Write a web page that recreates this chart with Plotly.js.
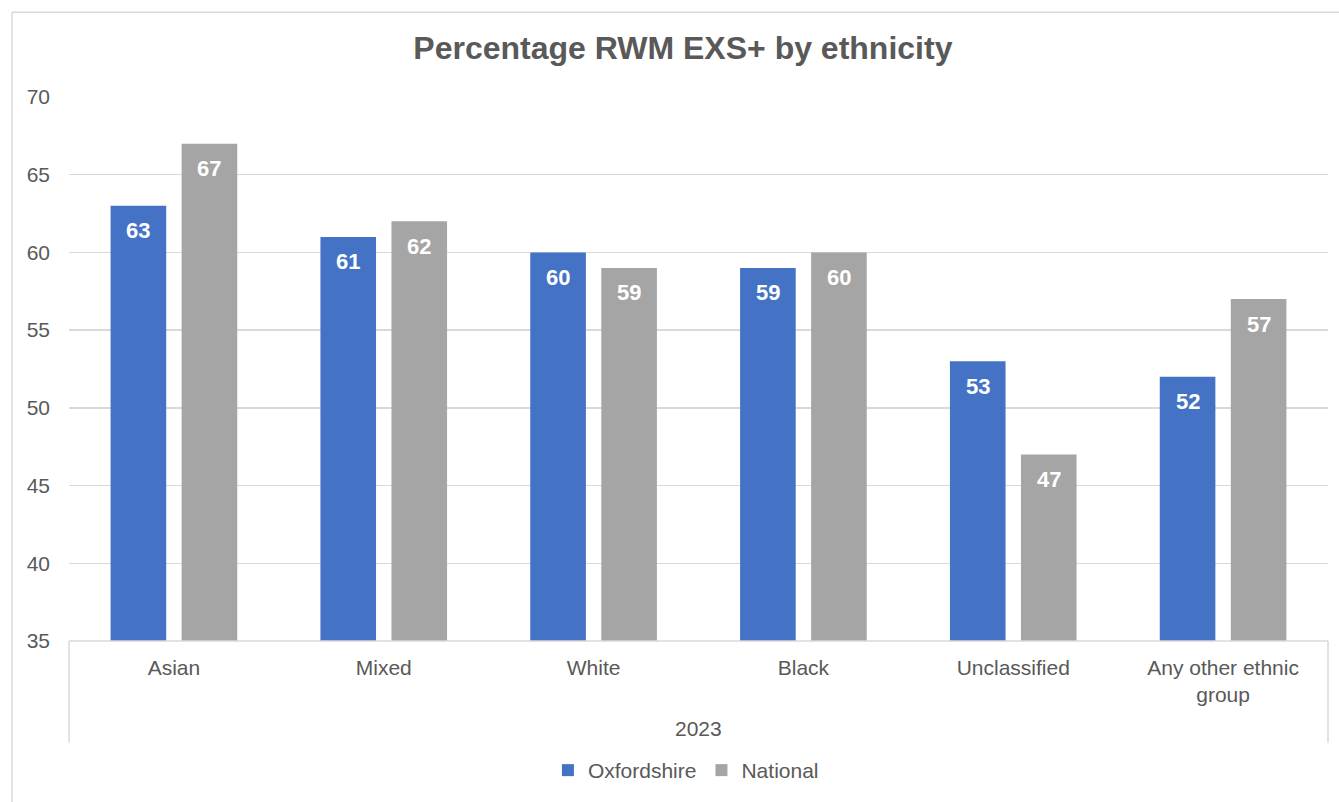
<!DOCTYPE html>
<html>
<head>
<meta charset="utf-8">
<script src="https://cdn.plot.ly/plotly-3.0.1.min.js"></script>
<style>
html,body{margin:0;padding:0;background:#fff;}
#chart{width:1339px;height:802px;}
</style>
</head>
<body>
<div id="chart"></div>
<script>
const categories = ["Asian", "Mixed", "White", "Black", "Unclassified", "Any other ethnic<br>group"];
const groupLabel = "2023";
const oxfordshire = [63, 61, 60, 59, 53, 52];
const national = [67, 62, 59, 60, 47, 57];
const seriesNames = ["Oxfordshire", "National"];
const seriesColors = ["#4472C4", "#A5A5A5"];
const chartTitle = "Percentage RWM EXS+ by ethnicity";
const yMin = 35, yMax = 70;

const font = "Liberation Sans, Arial, sans-serif";
const textCol = "#595959";
const gridCol = "#d9d9d9";

const series = [oxfordshire, national];

const data = series.map((vals, i) => ({
  type: "bar",
  name: seriesNames[i],
  x: categories,
  y: vals.map(v => v - yMin),
  base: yMin,
  marker: {color: seriesColors[i]},
  hoverinfo: "skip"
}));

// value labels inside the top of each bar
const slotShift = 35.5;
const labelAnn = [];
series.forEach((vals, i) => {
  vals.forEach((v, j) => {
    labelAnn.push({
      x: categories[j], y: v, xref: "x", yref: "y",
      xshift: (i === 0 ? -1 : 1) * slotShift, yshift: -25,
      text: "<b>" + v + "</b>", showarrow: false,
      xanchor: "center", yanchor: "middle",
      font: {family: font, size: 22, color: "#ffffff"}
    });
  });
});

const layout = {
  width: 1339, height: 802,
  margin: {l: 69, r: 11, t: 97, b: 159},
  paper_bgcolor: "#ffffff",
  plot_bgcolor: "#ffffff",
  barmode: "group",
  bargap: 0.323,
  bargroupgap: 0.217,
  title: {text: "<b>" + chartTitle + "</b>", x: 0.51, xanchor: "center", y: 0.941, yanchor: "middle",
          font: {family: font, size: 32, color: textCol}},
  font: {family: font, color: textCol, size: 21},
  xaxis: {
    type: "category",
    automargin: false,
    showgrid: false,
    showline: false,
    ticks: "",
    ticklabelstandoff: 12,
    tickfont: {family: font, size: 21, color: textCol},
    fixedrange: true
  },
  yaxis: {
    range: [yMin, yMax],
    automargin: false,
    tickvals: [35, 40, 45, 50, 55, 60, 65, 70],
    ticktext: ["35", "40", "45", "50", "55", "60", "65", "70"],
    showgrid: true,
    gridcolor: gridCol,
    gridwidth: 1.3,
    zeroline: false,
    showline: false,
    ticks: "",
    ticklabelstandoff: 18,
    tickfont: {family: font, size: 21, color: textCol},
    fixedrange: true
  },
  showlegend: true,
  legend: {
    orientation: "h", x: 0.49, xanchor: "center", y: -0.238, yanchor: "middle",
    font: {family: font, size: 21, color: textCol},
    itemwidth: 30, traceorder: "normal"
  },
  annotations: [
    {text: groupLabel, xref: "paper", yref: "paper", x: 0.5, y: -0.161, xanchor: "center", yanchor: "middle",
     showarrow: false, font: {family: font, size: 21, color: textCol}}
  ].concat(labelAnn),
  shapes: [
    {type: "line", xref: "paper", yref: "paper", x0: 0, x1: 1, y0: 0, y1: 0, line: {color: gridCol, width: 1.5}},
    {type: "line", xref: "paper", yref: "paper", x0: 0, x1: 0, y0: 0, y1: -0.1868, line: {color: gridCol, width: 1.5}},
    {type: "line", xref: "paper", yref: "paper", x0: 1, x1: 1, y0: 0, y1: -0.1868, line: {color: gridCol, width: 1.5}},
    {type: "line", xref: "paper", yref: "paper", x0: -0.0453, x1: -0.0453, y0: 1.1557, y1: -0.30, line: {color: gridCol, width: 1.5}},
    {type: "line", xref: "paper", yref: "paper", x0: -0.0453, x1: 1.01, y0: 1.1557, y1: 1.1557, line: {color: gridCol, width: 1.5}}
  ]
};

Plotly.newPlot("chart", data, layout, {displayModeBar: false, staticPlot: true});
</script>
</body>
</html>
